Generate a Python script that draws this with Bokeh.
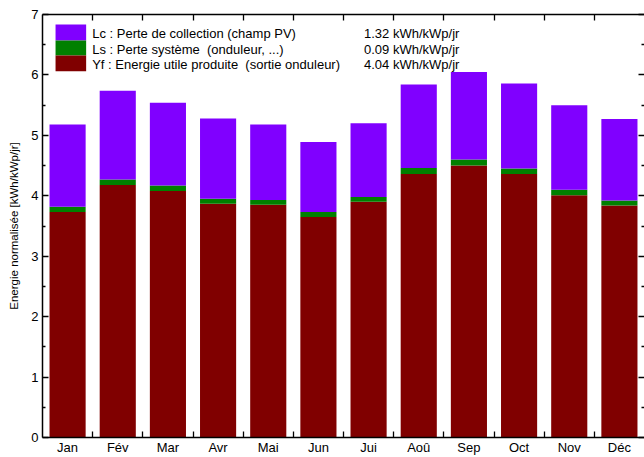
from bokeh.plotting import figure
from bokeh.models import (ColumnDataSource, Range1d, LinearAxis, FixedTicker,
                          BoxAnnotation, Label)
from bokeh.embed import file_html
from bokeh.resources import INLINE

months = ["Jan", "Fév", "Mar", "Avr", "Mai", "Jun", "Jui", "Aoû", "Sep", "Oct", "Nov", "Déc"]
yf = [3.73, 4.18, 4.08, 3.87, 3.85, 3.65, 3.90, 4.36, 4.50, 4.36, 4.01, 3.84]
ls = [0.09, 0.09, 0.09, 0.08, 0.08, 0.08, 0.08, 0.10, 0.10, 0.09, 0.09, 0.08]
lc = [1.36, 1.47, 1.37, 1.33, 1.25, 1.16, 1.22, 1.38, 1.45, 1.41, 1.40, 1.35]

NB = "\u00a0"
legend_labels = ["Lc : Perte de collection (champ PV)",
                 "Ls : Perte système" + NB + " (onduleur, ...)",
                 "Yf : Energie utile produite" + NB + " (sortie onduleur)"]
legend_values = ["1.32 kWh/kWp/jr", "0.09 kWh/kWp/jr", "4.04 kWh/kWp/jr"]
colors = {"Yf": "#800000", "Ls": "#008000", "Lc": "#8000FF"}

FONT = "Liberation Sans"

xpos = [i + 0.5 for i in range(len(months))]
src = ColumnDataSource(dict(x=xpos, Yf=yf, Ls=ls, Lc=lc))

p = figure(width=644, height=457, output_backend="svg", toolbar_location=None,
           x_range=Range1d(0, len(months)), y_range=Range1d(0, 7),
           x_axis_location=None, y_axis_location=None,
           min_border_left=42, min_border_right=0, min_border_top=14, min_border_bottom=0)
p.grid.visible = False
p.outline_line_color = None
p.background_fill_color = "white"

p.vbar_stack(["Yf", "Ls", "Lc"], x="x", width=0.72, source=src,
             color=[colors["Yf"], colors["Ls"], colors["Lc"]], line_color=None)

boundaries = [float(i) for i in range(1, len(months))]

def style_common(ax):
    ax.axis_line_color = "black"
    ax.axis_line_width = 1.5
    ax.major_tick_line_color = "black"
    ax.minor_tick_line_color = "black"
    ax.major_tick_line_width = 1.3
    ax.minor_tick_line_width = 1.3
    ax.major_label_text_color = "black"
    ax.major_label_text_font = FONT

# bottom axis: month labels at centers, ticks at boundaries (as minor ticks)
xb = LinearAxis(ticker=FixedTicker(ticks=xpos, minor_ticks=boundaries),
                major_label_overrides={x: m for x, m in zip(xpos, months)})
style_common(xb)
xb.major_tick_line_color = None
xb.major_tick_in = 0
xb.major_tick_out = 0
xb.minor_tick_in = 6
xb.minor_tick_out = 0
xb.major_label_standoff = 2
xb.major_label_text_font_size = "13px"
p.add_layout(xb, "below")

# top axis: boundary ticks only
xt = LinearAxis(ticker=FixedTicker(ticks=[], minor_ticks=boundaries))
style_common(xt)
xt.major_tick_in = 0
xt.major_tick_out = 0
xt.minor_tick_in = 6
xt.minor_tick_out = 0
xt.major_label_standoff = 0
p.add_layout(xt, "above")

yticks = list(range(0, 8))
yminor = [i + 0.5 for i in range(0, 7)]

yl = LinearAxis(ticker=FixedTicker(ticks=yticks, minor_ticks=yminor),
                axis_label="Energie normalisée [kWh/kWp/jr]")
style_common(yl)
yl.major_tick_in = 6
yl.major_tick_out = 0
yl.minor_tick_in = 3
yl.minor_tick_out = 0
yl.major_label_standoff = 4
yl.major_label_text_font_size = "13px"
yl.axis_label_text_font = FONT
yl.axis_label_text_font_size = "11.5px"
yl.axis_label_text_font_style = "normal"
yl.axis_label_text_color = "black"
yl.axis_label_standoff = 8
p.add_layout(yl, "left")

yr = LinearAxis(ticker=FixedTicker(ticks=yticks, minor_ticks=yminor),
                major_label_overrides={t: "" for t in yticks})
style_common(yr)
yr.axis_line_color = None
yr.major_tick_in = 6
yr.major_tick_out = 0
yr.minor_tick_in = 3
yr.minor_tick_out = 0
yr.major_label_standoff = 0
p.add_layout(yr, "right")

# legend (drawn manually)
sw_left, sw_right = 0.26, 0.87
sw_edges = [6.835, 6.571, 6.323, 6.059]
sw_colors = [colors["Lc"], colors["Ls"], colors["Yf"]]
text_x = 0.99
value_x = 8.31
for k in range(3):
    top, bot = sw_edges[k], sw_edges[k + 1]
    p.add_layout(BoxAnnotation(left=sw_left, right=sw_right, top=top, bottom=bot,
                               fill_color=sw_colors[k], fill_alpha=1.0,
                               line_color=None, level="overlay"))
    ymid = (top + bot) / 2 - 0.02
    p.add_layout(Label(x=text_x, y=ymid, text=legend_labels[k], text_font=FONT,
                       text_font_size="13px", text_baseline="middle",
                       text_align="left", text_color="black"))
    p.add_layout(Label(x=value_x, y=ymid, text=legend_values[k], text_font=FONT,
                       text_font_size="13px", text_baseline="middle",
                       text_align="right", text_color="black"))

open("out.html", "w").write(file_html(p, INLINE))
